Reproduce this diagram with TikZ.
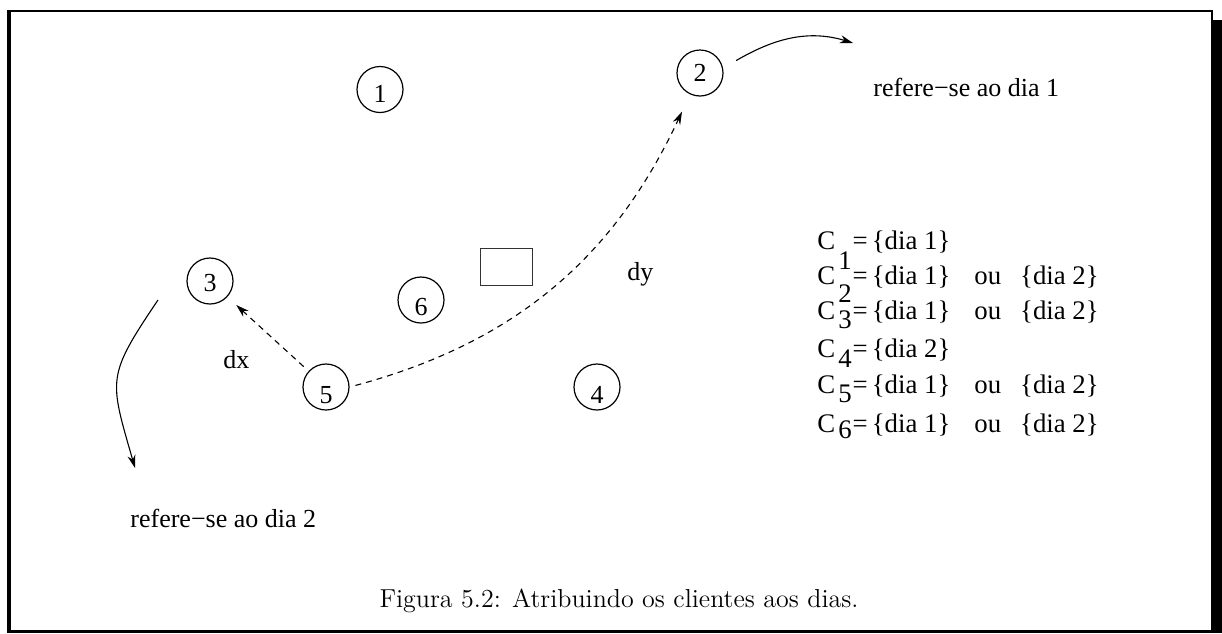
\documentclass[tikz,border=0pt]{standalone}
\usepackage{fontspec}
\newfontfamily\tms{Liberation Serif}
\usetikzlibrary{arrows.meta}
\begin{document}
\begin{tikzpicture}[x=0.5pt,y=-0.5pt,
  circ/.style={circle, draw, line width=0.6pt, minimum size=23pt, inner sep=0pt, text depth=0pt, font=\tms\fontsize{13}{15}\selectfont},
  txt/.style={anchor=base west, inner sep=0pt, font=\tms\fontsize{13}{15}\selectfont},
  setl/.style={anchor=base west, inner sep=0pt, font=\tms\fontsize{13.4}{15}\selectfont},
  arr/.style={line width=0.55pt, -{Stealth[length=6.5pt,width=4pt]}},
  dsh/.style={dash pattern=on 3pt off 2.5pt}]
\useasboundingbox (0,0) rectangle (1222,633);
% frame
\fill (7,10) rectangle (11,633);
\fill (7,10) rectangle (1213,12.3);
\fill (1211,10) rectangle (1213.3,20);
\fill (1211,20) rectangle (1222,633);
\fill (7,630) rectangle (1222,633);
% circles
\node[circ, text height=13.3pt] (c1) at (380,89.5) {1};
\node[circ, text height=8.8pt] (c2) at (700,73) {2};
\node[circ, text height=10.8pt] (c3) at (210,281) {3};
\node[circ, text height=16.8pt] (c4) at (597,387) {4};
\node[circ, text height=16.8pt] (c5) at (326,387) {5};
\node[circ, text height=15.8pt] (c6) at (421,300) {6};
\node[draw=black!80, line width=0.5pt, minimum width=26pt, minimum height=18.5pt, inner sep=0pt] (bx) at (506,266.5) {};
% labels
\node[txt] (r1) at (873,96) {refere−se ao dia 1};
\node[txt] (r2) at (130,527) {refere−se ao dia 2};
\node[txt] (dx) at (223,368) {dx};
\node[txt] (dy) at (627,280) {dy};
\coordinate (e1) at ([shift={(-20,-53)}]r1.base west);
\coordinate (s3) at ([shift={(-52,19)}]c3.center);
\coordinate (e3) at ([shift={(5,-59)}]r2.base west);
% connectors
\draw[arr, dsh, shorten <=3.3pt, shorten >=6pt] (c5) -- (c3);
\draw[arr, dsh, shorten <=3pt, shorten >=9.5pt] (c5.east) to[out=15,in=-115] (c2);
\draw[arr, shorten <=7.5pt] (c2.12) to[out=30,in=163] (e1);
\draw[arr] (s3) to[out=-124,in=106,looseness=1.4] (e3);
% sets
\node[setl] (l1) at (817,249) {C\hspace{1.5pt}\raisebox{-10pt}{1}\hspace{0.5pt}=\hspace{2pt}\{dia 1\}};
\node[setl] (l2) at (817,284) {C\hspace{1.5pt}\raisebox{-9pt}{2}\hspace{0.5pt}=\hspace{2pt}\{dia 1\}\hspace{12pt}ou\hspace{9.5pt}\{dia 2\}};
\node[setl] (l3) at (817,319) {C\hspace{1.5pt}\raisebox{-4.5pt}{3}\hspace{0.5pt}=\hspace{2pt}\{dia 1\}\hspace{12pt}ou\hspace{9.5pt}\{dia 2\}};
\node[setl] (l4) at (817,357) {C\hspace{1.5pt}\raisebox{-5pt}{4}\hspace{0.5pt}=\hspace{2pt}\{dia 2\}};
\node[setl] (l5) at (817,393) {C\hspace{1.5pt}\raisebox{-4.5pt}{5}\hspace{0.5pt}=\hspace{2pt}\{dia 1\}\hspace{12pt}ou\hspace{9.5pt}\{dia 2\}};
\node[setl] (l6) at (817,432) {C\hspace{1.5pt}\raisebox{-3pt}{6}\hspace{0.5pt}=\hspace{2pt}\{dia 1\}\hspace{12pt}ou\hspace{9.5pt}\{dia 2\}};
% caption
\node[anchor=base, inner sep=0pt, font=\fontsize{13}{15}\selectfont] (cap) at (619,607) {Figura 5.2: Atribuindo os clientes aos dias.};
\end{tikzpicture}
\end{document}
